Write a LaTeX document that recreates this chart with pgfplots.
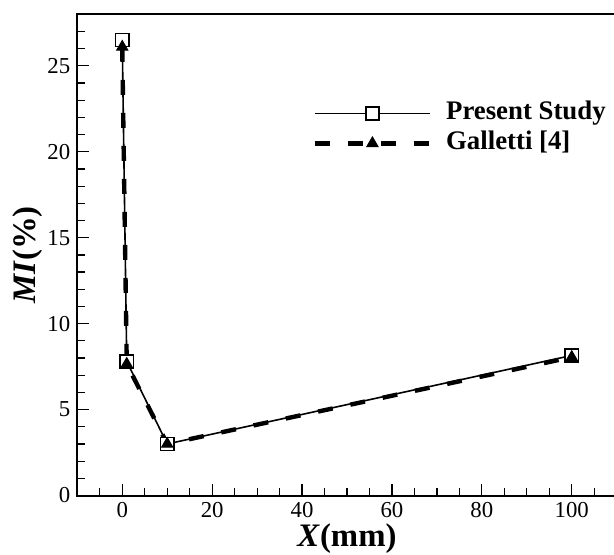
\documentclass[border=0pt]{standalone}
\usepackage{fontspec}
\setmainfont{Liberation Serif}
\usepackage{pgfplots}
\pgfplotsset{compat=1.18}
\begin{document}
\begin{tikzpicture}
\useasboundingbox (0,0) rectangle (307pt,277pt);
\begin{axis}[
  at={(38.65pt,29.25pt)}, anchor=south west,
  scale only axis, width=269.7pt, height=240.6pt,
  xmin=-10, xmax=110, ymin=0, ymax=28,
  xtick={0,20,...,100}, ytick={0,5,...,25},
  minor xtick={-10,-5,...,110}, minor ytick={0,1,...,28},
  tick pos=left, tick align=inside,
  major tick length=6pt, minor tick length=3.8pt,
  every tick/.style={line width=0.6pt, black},
  axis line style={line width=1pt},
  /pgf/number format/assume math mode=true,
  tick label style={font=\fontsize{11.4}{13}\selectfont},
  every axis x label/.style={at={(rel axis cs:0.5,0)}, yshift=-21.75pt, anchor=center},
  every axis y label/.style={at={(rel axis cs:0,0.5)}, xshift=-24.6pt, rotate=90, anchor=center},
  label style={font=\fontsize{16.4}{18}\selectfont\bfseries},
  xlabel={\textit{X}(mm)},
  ylabel={\textit{MI}(\%)},
  legend image code/.code={\draw[mark repeat=2, mark phase=2, #1] plot coordinates {(0pt,0pt)(28.75pt,0pt)(57.5pt,0pt)};},
  legend cell align=left,
  legend style={draw=none, fill=none, at={(axis description cs:0.4357,0.763)}, anchor=west,
    font=\fontsize{13.4}{15}\selectfont\bfseries, row sep=0pt, column sep=5pt, inner sep=0pt,
    nodes={inner sep=2pt, text height=8.5pt, text depth=2.5pt}},
]
\addplot[black, line width=0.8pt, mark=square*, mark size=3.3pt,
  mark options={solid, fill=white, line width=0.8pt}]
  coordinates {(0,26.5) (1,7.8) (10,3.0) (100,8.15)};
\addlegendentry{Present Study}
\addplot[black, line width=2.2pt, dash pattern=on 7.5pt off 9pt, mark=triangle*, mark size=3.2pt,
  mark options={solid, fill=black, line width=0.5pt}]
  coordinates {(0,26.1) (1,7.65) (10,3.0) (100,8.05)};
\addlegendentry{Galletti [4]}
\end{axis}
\end{tikzpicture}
\end{document}
